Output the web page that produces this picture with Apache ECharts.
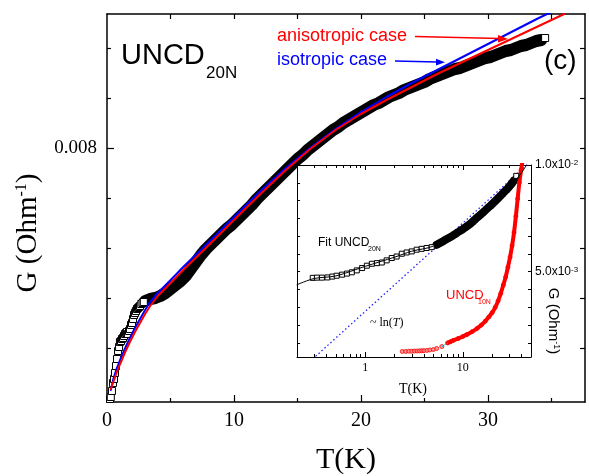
<!DOCTYPE html>
<html><head><meta charset="utf-8">
<script src="https://cdn.jsdelivr.net/npm/echarts@6/dist/echarts.min.js"></script>
<style>html,body{margin:0;padding:0;background:#fff}#c{width:589px;height:476px}</style>
</head><body><div id="c"></div>
<script>
// ---------------- main panel: UNCD20N data (T in K, G in Ohm^-1) ----------------
const lowT = [0.24,0.30,0.39,0.47,0.55,0.63,0.71,0.79,0.87,0.95,1.02,1.10,1.18,1.26,1.34,1.42,1.50,1.57,1.65,1.73,1.81,1.89,1.97,2.05,2.13,2.20,2.28,2.36,2.44,2.52,2.60,2.70,2.80,2.90];
const lowG = [0.00549,0.00551,0.00557,0.00565,0.00569,0.00575,0.00582,0.00589,0.00597,0.00601,0.00606,0.00607,0.00609,0.00610,0.00612,0.00614,0.00615,0.00616,0.00614,0.00617,0.00619,0.00623,0.00625,0.00629,0.00633,0.00635,0.00637,0.00639,0.00640,0.00641,0.00642,0.00644,0.00645,0.00646];
const denseT = [3.0,3.4,3.8,4.2,4.6,5.0,5.4,5.8,6.2,6.6,7.0,7.4,7.8,8.2,8.6,9.0,9.4,9.8,10.2,10.6,11.0,11.4,11.8,12.2,12.6,13.0,13.4,13.8,14.2,14.6,15.0,15.4,15.8,16.2,16.6,17.0,17.4,17.8,18.2,18.6,19.0,19.4,19.8,20.2,20.6,21.0,21.4,21.8,22.2,22.6,23.0,23.4,23.8,24.2,24.6,25.0,25.4,25.8,26.2,26.6,27.0,27.4,27.8,28.2,28.6,29.0,29.4,29.8,30.2,30.6,31.0,31.4,31.8,32.2,32.6,33.0,33.4,33.8,34.2];
const denseG = [0.00647,0.00649,0.00650,0.00652,0.00655,0.00659,0.00663,0.00667,0.00672,0.00679,0.00686,0.00693,0.00699,0.00704,0.00709,0.00714,0.00719,0.00723,0.00728,0.00733,0.00738,0.00743,0.00749,0.00754,0.00759,0.00764,0.00769,0.00774,0.00779,0.00784,0.00789,0.00793,0.00798,0.00802,0.00806,0.00810,0.00814,0.00818,0.00821,0.00825,0.00828,0.00831,0.00834,0.00837,0.00840,0.00843,0.00845,0.00848,0.00851,0.00853,0.00855,0.00858,0.00860,0.00862,0.00864,0.00866,0.00869,0.00871,0.00873,0.00875,0.00877,0.00879,0.00880,0.00882,0.00884,0.00886,0.00888,0.00890,0.00891,0.00893,0.00895,0.00897,0.00898,0.00900,0.00902,0.00903,0.00905,0.00907,0.00908];
const lastT = [34.5];
const lastG = [0.00910];
const isoT = [0.3,0.5,0.75,1.0,1.4,1.8,2.2,2.6,3.0,3.4,4.0,4.7,5.4,6.0,7.3,8.5,10,12,14,16,18,20,22,24,26,28,30,32,34,35];
const isoG = [0.00558,0.00569,0.00579,0.00587,0.00599,0.00610,0.00620,0.00629,0.00638,0.00646,0.00655,0.00664,0.00673,0.00681,0.00697,0.00712,0.00731,0.00756,0.00779,0.00800,0.00819,0.00836,0.00851,0.00865,0.00878,0.00891,0.00904,0.00917,0.00930,0.00936];
const anisoT = [0.3,0.5,0.75,1.0,1.4,1.8,2.2,2.6,3.0,3.4,4.0,4.7,5.4,6.0,7.3,8.5,10,12,14,16,18,20,22,24,26,28,30,32,34,36];
const anisoG = [0.00559,0.00566,0.00575,0.00583,0.00595,0.00606,0.00616,0.00625,0.00634,0.00642,0.00652,0.00661,0.00670,0.00678,0.00694,0.00709,0.00728,0.00753,0.00777,0.00799,0.00818,0.00834,0.00848,0.00861,0.00874,0.00886,0.00898,0.00910,0.00922,0.00934];

// ---------------- inset (log T) ----------------
const inLowT = [0.29,0.32,0.36,0.41,0.46,0.51,0.58,0.65,0.73,0.82,0.93,1.04,1.17,1.32,1.48,1.66,1.87,2.10,2.37,2.66,3.0,3.37,3.79,4.26,4.8];
const inLowG = [0.00471,0.00472,0.00472,0.00473,0.00477,0.00481,0.00486,0.00491,0.00497,0.00506,0.00517,0.00528,0.00537,0.00540,0.00543,0.00553,0.00564,0.00571,0.00584,0.00590,0.00595,0.00603,0.00607,0.00611,0.00615];
const inDenseT = [5.4,5.65,5.9,6.2,6.5,6.8,7.1,7.4,7.8,8.2,8.6,9.0,9.4,9.9,10.4,10.9,11.4,12.0,12.6,13.2,13.8,14.5,15.2,15.9,16.7,17.5,18.3,19.2,20.1,21.1,22.1,23.2,24.3,25.4,26.6,27.9,29.2,30.6,32.0,33.5];
const inDenseG = [0.00626,0.00631,0.00636,0.00641,0.00647,0.00653,0.00657,0.00661,0.00667,0.00674,0.00680,0.00686,0.00692,0.00698,0.00705,0.00712,0.00718,0.00725,0.00734,0.00742,0.00751,0.00759,0.00767,0.00775,0.00784,0.00793,0.00801,0.00809,0.00818,0.00827,0.00836,0.00846,0.00855,0.00864,0.00874,0.00883,0.00893,0.00904,0.00915,0.00928];
const inLastT = [35.3];
const inLastG = [0.00949];
const fitT = [0.2,0.3,0.5,1.0,2.0,3.0,5.0,10,20,30,38,45];
const fitG = [0.00439,0.00468,0.00480,0.00525,0.00568,0.00596,0.00620,0.00703,0.00818,0.00898,0.00950,0.01000];
const lnT = [0.31,48];
const lnG = [0.00103,0.0101];
const cyanT = [6.1,7.0];
const cyanG = [0.00149,0.00166];
const n10FlatT = [2.4,2.6,2.8,3.0,3.2,3.4,3.6,3.8,4.0,4.3,4.6,5.0,5.4,6.1];
const n10FlatG = [0.00126,0.00126,0.00127,0.00127,0.00128,0.00128,0.00129,0.00129,0.00130,0.00131,0.00133,0.00135,0.00140,0.00149];
const n10T = [7.0,7.5,8.0,9.0,10,11,12.5,14,15.5,17,18.5,20,21.5,23,24.5,26,27.5,29,30.5,32,33.5,35,36.5,38,39.5,41];
const n10G = [0.00166,0.00172,0.00178,0.00187,0.00196,0.00205,0.00219,0.00234,0.00250,0.00268,0.00288,0.00308,0.00333,0.00363,0.00398,0.00437,0.00475,0.00521,0.00568,0.00622,0.00684,0.00760,0.00842,0.00918,0.00975,0.01020];

// ---------------- ticks & labels ----------------
const mainXMajor = [10,20,30];
const mainXLabels = [0,10,20,30];
const mainXMinor = [5,15,25,35];
const mainXTop = [5,10,15,20,25,30,35];
const mainYMinor = [0.006,0.0065,0.007,0.0075,0.0085,0.009];
const mainYMajor = [0.008];
const mainYRight = [0.006,0.0065,0.007,0.0075,0.008,0.0085,0.009];
const inXMajor = [1,10];
const inXMinor = [0.2,0.3,0.4,0.5,0.6,0.7,0.8,0.9,2,3,4,5,6,7,8,9,20,30,40,50];
const inYTicks = [0.0016667,0.0025,0.0033333,0.0041667,0.005,0.0058333,0.0066667,0.0075,0.0083333,0.0091667,0.01];
const inYLabels = [0.005,0.01];

const pts = (xs, ys) => xs.map((x, i) => [x, ys[i]]);
const SERIF = 'Liberation Serif', SANS = 'Liberation Sans';

function ax(o) {
  return {
    gridIndex: o.g, type: o.type || 'value', position: o.pos, min: o.min, max: o.max, logBase: 10, z: o.z || 0,
    splitLine: { show: false },
    axisLine: { show: !!o.line, onZero: false, lineStyle: { color: '#000', width: o.lw || 1.5 } },
    axisTick: { show: !!o.ticks, inside: true, length: o.len || 4, customValues: o.ticks, lineStyle: { color: '#000', width: o.tw || 1.2 } },
    minorTick: { show: false },
    axisLabel: o.labels ? { show: true, customValues: o.labels, margin: o.margin, fontFamily: o.ff, fontSize: o.fs, color: '#000', formatter: o.fmt, rich: o.rich } : { show: false },
    axisPointer: { show: false }
  };
}

const XMAX = 37.64, YMIN = 0.00546, YMAX = 0.00934;
const xAxes = [
  ax({ g: 0, pos: 'bottom', min: 0, max: XMAX, line: true, ticks: mainXMajor, len: 7, labels: mainXLabels, margin: 9, ff: SERIF, fs: 20, fmt: v => String(Math.round(v)) }),
  ax({ g: 0, pos: 'bottom', min: 0, max: XMAX, ticks: mainXMinor, len: 4 }),
  ax({ g: 0, pos: 'top', min: 0, max: XMAX, line: true, ticks: mainXTop, len: 5 }),
  ax({ g: 1, type: 'log', pos: 'bottom', min: 0.2, max: 50, line: true, lw: 1, ticks: inXMajor, len: 5, tw: 1, labels: inXMajor, margin: 5, ff: SERIF, fs: 12, fmt: v => String(Math.round(v)), z: 6 }),
  ax({ g: 1, type: 'log', pos: 'bottom', min: 0.2, max: 50, ticks: inXMinor, len: 3, tw: 1, z: 6 }),
  ax({ g: 1, type: 'log', pos: 'top', min: 0.2, max: 50, line: true, lw: 1, ticks: inXMajor, len: 5, tw: 1, z: 6 }),
  ax({ g: 1, type: 'log', pos: 'top', min: 0.2, max: 50, ticks: inXMinor, len: 3, tw: 1, z: 6 })
];
const yAxes = [
  ax({ g: 0, pos: 'left', min: YMIN, max: YMAX, line: true, ticks: mainYMinor, len: 4 }),
  ax({ g: 0, pos: 'left', min: YMIN, max: YMAX, ticks: mainYMajor, len: 7, labels: mainYMajor, margin: 10, ff: SERIF, fs: 19, fmt: () => '0.008' }),
  ax({ g: 0, pos: 'right', min: YMIN, max: YMAX, line: true, ticks: mainYRight, len: 5 }),
  ax({ g: 1, pos: 'right', min: 0.001, max: 0.01, line: true, lw: 1, ticks: inYTicks, len: 3, tw: 1, labels: inYLabels, margin: 4, ff: SANS, fs: 12,
       fmt: v => v > 0.0075 ? '1.0x10{s|-2}' : '5.0x10{s|-3}',
       rich: { s: { fontSize: 8, fontFamily: SANS, color: '#000', verticalAlign: 'top', lineHeight: 8 } }, z: 6 }),
  ax({ g: 1, pos: 'left', min: 0.001, max: 0.01, line: true, lw: 1, ticks: inYTicks, len: 3, tw: 1, z: 6 })
];

const sq = (data, fill, size, z, xi, yi) => ({
  type: 'scatter', data, xAxisIndex: xi, yAxisIndex: yi, symbol: 'rect', symbolSize: size, z,
  itemStyle: { color: fill, borderColor: '#000', borderWidth: 1, opacity: 1 }, silent: true, animation: false
});
const ln = (data, color, width, z, xi, yi, extra) => Object.assign({
  type: 'line', data, xAxisIndex: xi, yAxisIndex: yi, symbol: 'none', z, silent: true, animation: false,
  lineStyle: { color, width, join: 'round', cap: 'round' }, smooth: false
}, extra || {});

const series = [
  // main
  ln(pts(denseT, denseG), '#000', 12, 1, 0, 0),
  sq(pts(denseT, denseG), '#000', 7, 1, 0, 0),
  sq(pts(lowT, lowG), '#fff', 7, 1, 0, 0),
  sq(pts(lastT, lastG), '#fff', 7, 1, 0, 0),
  ln(pts(isoT, isoG), '#0000ff', 2, 2, 0, 0),
  ln(pts(anisoT, anisoG), '#ff0000', 2, 2, 0, 0),
  // inset
  ln(pts(lnT, lnG), '#2020ff', 1.3, 7, 3, 3, { lineStyle: { color: '#2020ff', width: 1.3, type: [1.5, 2.5] } }),
  ln(pts(inDenseT, inDenseG), '#000', 8, 8, 3, 3),
  sq(pts(inDenseT, inDenseG), '#000', 5, 8, 3, 3),
  sq(pts(inLowT, inLowG), '#fff', 5, 8, 3, 3),
  sq(pts(inLastT, inLastG), '#fff', 5, 8, 3, 3),
  ln(pts(fitT, fitG), '#000', 1, 9, 3, 3, { smooth: 0.3 }),
  ln(pts(n10T, n10G), '#ff0000', 4, 8, 3, 3, { smooth: 0.3 }),
  { type: 'scatter', data: pts(n10T, n10G), xAxisIndex: 3, yAxisIndex: 3, symbol: 'circle', symbolSize: 4, z: 8, silent: true, animation: false,
    itemStyle: { color: '#ff0000', borderColor: '#ff0000', borderWidth: 1 } },
  { type: 'scatter', data: pts(n10FlatT, n10FlatG), xAxisIndex: 3, yAxisIndex: 3, symbol: 'circle', symbolSize: 4, z: 8, silent: true, animation: false,
    itemStyle: { color: '#ff8080', borderColor: '#ff0000', borderWidth: 1 } },
  ln(pts(cyanT, cyanG), '#00d0e0', 1.2, 9, 3, 3, { lineStyle: { color: '#00d0e0', width: 1.2, type: [1.5, 1.5] } })
];

const txt = (text, x, y, font, fill, extra) => ({
  type: 'text', x, y, z: 20, silent: true,
  style: Object.assign({ text, font, fill, align: 'left', verticalAlign: 'middle' }, extra || {})
});

const graphic = [
  { type: 'rect', shape: { x: 297, y: 165, width: 234, height: 192 }, style: { fill: '#fff' }, z: 3, silent: true },
  txt('UNCD', 121, 56, '29px ' + SANS, '#000'),
  txt('20N', 206, 73, '17px ' + SANS, '#000'),
  txt('(c)', 544, 61, '28px ' + SANS, '#000'),
  txt('anisotropic case', 277, 36, '18px ' + SANS, '#ff0000'),
  txt('isotropic case', 277, 60, '18px ' + SANS, '#0000ff'),
  { type: 'line', shape: { x1: 415, y1: 36.5, x2: 500, y2: 38.5 }, style: { stroke: '#ff0000', lineWidth: 1.3 }, z: 20, silent: true },
  { type: 'polygon', shape: { points: [[508, 39], [498, 35], [498, 42.5]] }, style: { fill: '#ff0000' }, z: 20, silent: true },
  { type: 'line', shape: { x1: 395, y1: 61, x2: 437, y2: 62 }, style: { stroke: '#0000ff', lineWidth: 1.3 }, z: 20, silent: true },
  { type: 'polygon', shape: { points: [[445, 62.3], [436, 58.8], [436, 65.5]] }, style: { fill: '#0000ff' }, z: 20, silent: true },
  txt('T(K)', 346, 460, '30px ' + SERIF, '#000', { align: 'center' }),
  { type: 'text', x: 28, y: 233, rotation: Math.PI / 2, z: 20, silent: true,
    style: { text: 'G (Ohm{s|-1})', font: '29px ' + SERIF, fill: '#000', align: 'center', verticalAlign: 'middle',
      rich: { s: { fontSize: 16, fontFamily: SERIF, fill: '#000', verticalAlign: 'top', lineHeight: 16 } } } },
  txt('Fit UNCD', 318, 243, '12px ' + SANS, '#000'),
  txt('20N', 368, 249, '7px ' + SANS, '#000'),
  { type: 'text', x: 370, y: 323, z: 20, silent: true,
    style: { text: '~ ln({i|T})', font: '12px ' + SERIF, fill: '#000', align: 'left', verticalAlign: 'middle',
      rich: { i: { fontStyle: 'italic', fontSize: 12, fontFamily: SERIF, fill: '#000' } } } },
  txt('UNCD', 446, 295, '13px ' + SANS, '#ff0000'),
  txt('10N', 478, 302, '7px ' + SANS, '#ff0000'),
  txt('T(K)', 413, 389, '14px ' + SERIF, '#000', { align: 'center' }),
  { type: 'text', x: 553, y: 321, rotation: -Math.PI / 2, z: 20, silent: true,
    style: { text: 'G (Ohm{s|-1})', font: '15px ' + SANS, fill: '#000', align: 'center', verticalAlign: 'middle',
      rich: { s: { fontSize: 9, fontFamily: SANS, fill: '#000', verticalAlign: 'top', lineHeight: 9 } } } }
];

const chart = echarts.init(document.getElementById('c'), null, { renderer: 'canvas' });
chart.setOption({
  animation: false,
  backgroundColor: '#fff',
  grid: [
    { left: 107, top: 14, width: 478, height: 388, containLabel: false },
    { left: 297, top: 165, width: 234, height: 192, containLabel: false }
  ],
  xAxis: xAxes,
  yAxis: yAxes,
  series,
  graphic
});
</script>
</body></html>
